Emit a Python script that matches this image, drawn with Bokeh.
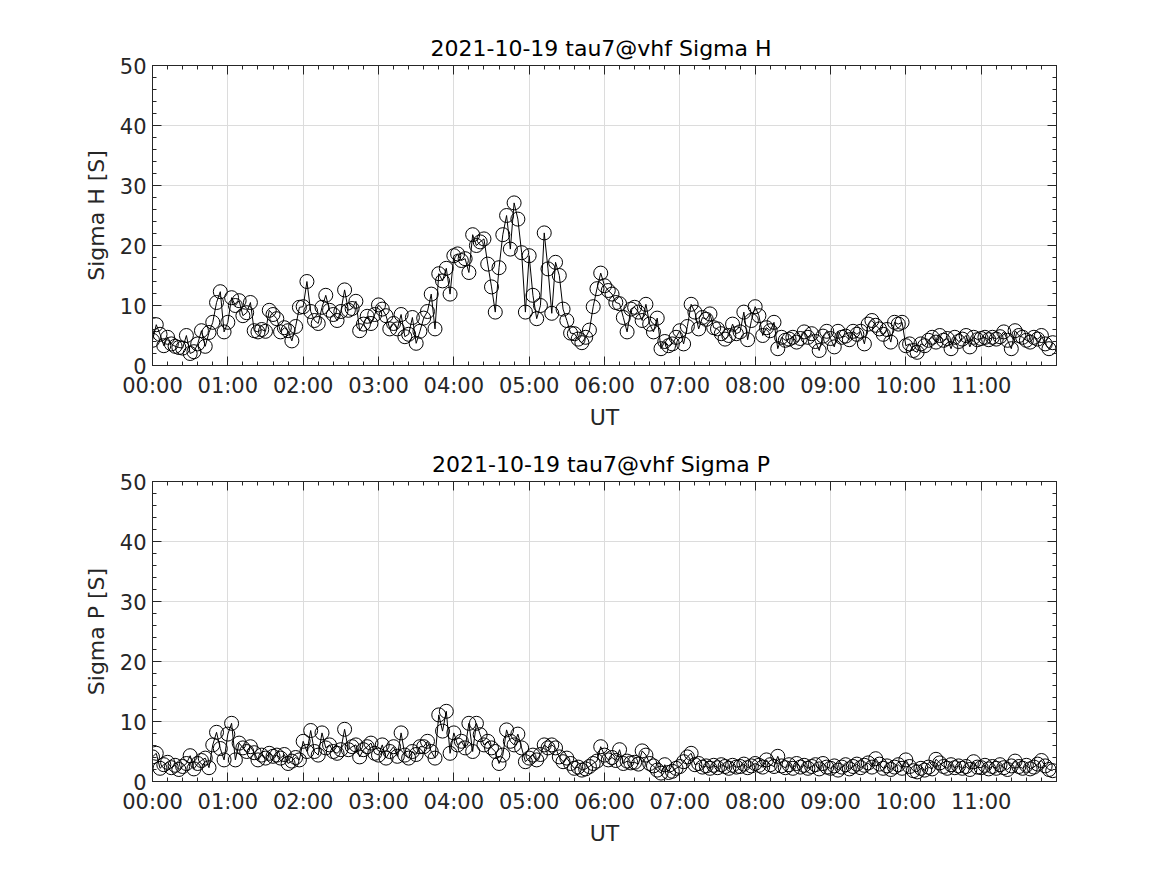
from bokeh.plotting import figure
from bokeh.layouts import column
from bokeh.models import Range1d, FixedTicker, LinearAxis, ColumnDataSource
from bokeh.embed import file_html
from bokeh.resources import INLINE

# ---- data (3-minute cadence, 00:00 .. 11:57 UT) ----
minutes = list(range(0, 720, 3))
tick_minutes = [0, 60, 120, 180, 240, 300, 360, 420, 480, 540, 600, 660]
tick_labels = ["00:00", "01:00", "02:00", "03:00", "04:00", "05:00",
               "06:00", "07:00", "08:00", "09:00", "10:00", "11:00"]
y_ticks = [0, 10, 20, 30, 40, 50]

sigma_h = [
    4.2, 6.8, 5.2, 3.3, 4.7, 3.6, 3.2, 3.0, 2.9, 5.0, 2.0, 2.3, 3.6, 5.8, 3.2, 5.5, 7.2, 10.5, 12.3, 5.6,
    7.2, 11.3, 10.0, 10.8, 8.3, 8.8, 10.5, 5.8, 5.6, 6.0, 5.7, 9.2, 8.5, 7.8, 5.6, 6.3, 5.8, 4.1, 6.5, 9.7,
    9.8, 14.0, 9.0, 7.5, 7.0, 9.7, 11.7, 9.2, 8.5, 7.5, 9.0, 12.6, 9.2, 9.5, 10.7, 5.8, 6.9, 8.2, 7.0, 8.5,
    10.1, 9.4, 8.3, 6.1, 7.0, 6.1, 8.5, 4.8, 5.2, 8.0, 3.7, 5.7, 7.9, 9.0, 11.9, 6.1, 15.3, 14.1, 16.2, 11.9,
    18.3, 18.6, 17.5, 17.8, 15.5, 21.8, 20.0, 20.6, 21.1, 16.9, 13.1, 8.9, 16.3, 21.8, 25.0, 19.4, 27.1, 24.4, 18.8, 8.9,
    18.3, 11.7, 7.8, 10.0, 22.1, 16.1, 8.7, 17.2, 15.0, 9.4, 7.5, 5.4, 5.3, 4.4, 3.8, 4.7, 5.9, 9.8, 12.8, 15.4,
    13.3, 12.5, 11.9, 10.5, 10.3, 8.0, 5.6, 9.4, 9.7, 8.9, 7.5, 10.2, 6.9, 5.6, 7.9, 2.8, 4.0, 3.3, 3.6, 4.7,
    5.8, 3.6, 6.5, 10.2, 8.9, 6.1, 8.0, 7.7, 8.6, 6.3, 6.1, 5.3, 4.4, 5.0, 6.9, 5.3, 5.6, 8.9, 4.3, 7.5,
    9.8, 8.3, 5.0, 6.3, 5.8, 7.2, 2.8, 4.7, 4.2, 4.4, 4.7, 3.9, 4.5, 5.6, 4.7, 5.3, 4.0, 2.5, 4.9, 5.7,
    4.5, 3.1, 5.7, 4.7, 4.9, 4.3, 5.7, 5.2, 5.7, 3.6, 6.9, 7.5, 6.7, 6.1, 5.2, 6.0, 3.9, 7.2, 6.9, 7.2,
    3.3, 3.6, 2.5, 2.2, 3.6, 3.3, 4.2, 4.7, 3.9, 5.0, 4.2, 4.5, 2.8, 4.7, 4.0, 4.4, 5.0, 3.1, 4.7, 4.3,
    4.5, 4.7, 4.3, 4.7, 4.4, 4.8, 5.6, 4.2, 2.8, 5.8, 5.0, 4.7, 4.2, 3.9, 4.7, 4.4, 5.0, 3.6, 2.8, 3.8,
]

sigma_p = [
    4.1, 4.7, 2.2, 2.8, 3.2, 2.3, 2.7, 2.0, 2.5, 3.0, 4.3, 2.1, 3.0, 3.5, 3.9, 2.3, 6.1, 8.2, 5.5, 3.6,
    7.9, 9.7, 3.6, 6.4, 5.6, 5.0, 5.8, 4.8, 3.6, 4.4, 3.9, 4.7, 4.2, 4.4, 3.9, 4.5, 3.0, 3.4, 4.0, 3.6,
    6.7, 5.0, 8.5, 5.0, 4.4, 8.1, 5.6, 6.1, 5.0, 4.7, 5.3, 8.7, 5.3, 5.8, 6.1, 4.1, 5.3, 5.8, 6.4, 4.7,
    4.4, 6.1, 3.9, 5.0, 5.8, 4.2, 8.1, 4.4, 3.9, 5.0, 4.5, 5.8, 5.8, 6.7, 5.0, 3.9, 11.1, 8.4, 11.7, 4.7,
    8.1, 6.1, 6.7, 5.6, 9.7, 5.0, 9.7, 7.8, 6.1, 6.7, 5.6, 5.0, 3.0, 4.4, 8.6, 6.7, 6.1, 7.9, 5.6, 3.3,
    3.9, 4.4, 3.6, 4.5, 6.1, 5.6, 6.1, 5.6, 4.1, 3.3, 3.9, 3.0, 2.2, 2.4, 1.9, 2.1, 2.5, 3.0, 3.4, 5.8,
    4.4, 3.6, 4.0, 3.5, 5.3, 3.0, 3.4, 3.1, 3.2, 2.9, 5.1, 4.4, 3.0, 2.6, 1.9, 1.4, 2.8, 1.5, 1.7, 2.2,
    2.5, 3.3, 4.1, 4.7, 2.8, 3.0, 2.4, 2.6, 2.2, 2.7, 2.3, 2.8, 2.5, 2.2, 2.7, 2.4, 2.5, 2.9, 2.3, 2.6,
    3.0, 2.7, 2.4, 3.6, 2.8, 2.5, 4.2, 2.6, 2.3, 2.8, 2.2, 3.0, 2.4, 2.7, 2.2, 2.5, 2.8, 2.1, 3.0, 2.4,
    2.2, 2.6, 1.9, 2.4, 2.8, 2.1, 2.5, 2.9, 2.3, 2.7, 3.1, 2.4, 3.8, 2.9, 2.2, 2.6, 2.0, 2.4, 2.8, 2.2,
    3.6, 2.5, 1.8, 1.6, 2.2, 1.9, 2.4, 2.1, 3.7, 3.1, 2.5, 2.2, 2.8, 2.3, 2.6, 2.2, 2.5, 2.0, 3.3, 2.4,
    2.3, 2.7, 2.1, 2.5, 2.2, 2.8, 2.3, 2.0, 2.6, 3.4, 2.5, 2.2, 2.7, 2.1, 2.4, 2.9, 3.5, 2.6, 2.0, 1.8,
]

FONT = "DejaVu Sans"
TXT = "#262626"
x_minor = [m for m in range(0, 721, 12) if m % 60 != 0]
y_minor = [v for v in range(0, 51, 2) if v % 10 != 0]


def style_axis(ax, show_labels):
    ax.axis_line_color = TXT
    ax.axis_line_width = 1
    ax.major_tick_line_color = TXT
    ax.minor_tick_line_color = TXT
    ax.major_tick_in = 9
    ax.major_tick_out = 0
    ax.minor_tick_in = 4
    ax.minor_tick_out = 0
    ax.major_label_text_font = FONT
    ax.axis_label_text_font = FONT
    ax.axis_label_text_color = TXT
    ax.axis_label_text_font_style = "normal"
    ax.axis_label_text_font_size = "22px"
    if show_labels:
        ax.major_label_text_font_size = "21px"
        ax.major_label_text_color = TXT
    else:
        ax.major_label_text_font_size = "1px"
        ax.major_label_text_color = None
        ax.major_label_standoff = 0


def make_panel(values, title, ylabel, border_top, border_bottom):
    p = figure(frame_width=904, frame_height=300,
               x_range=Range1d(0, 720), y_range=Range1d(0, 50),
               output_backend="svg", toolbar_location=None,
               min_border_left=152, min_border_right=60,
               min_border_top=border_top, min_border_bottom=border_bottom,
               background_fill_color="white", border_fill_color="white")
    p.title.text = title
    p.title.align = "center"
    p.title.text_font = FONT
    p.title.text_font_size = "22px"
    p.title.text_font_style = "normal"
    p.title.text_color = "#000000"
    p.outline_line_color = TXT

    xt = FixedTicker(ticks=tick_minutes, minor_ticks=x_minor)
    yt = FixedTicker(ticks=y_ticks, minor_ticks=y_minor)

    p.xaxis.ticker = xt
    p.xaxis.major_label_overrides = {m: lab for m, lab in zip(tick_minutes, tick_labels)}
    p.xaxis.axis_label = "UT"
    p.xaxis.major_label_standoff = 8
    p.xaxis.axis_label_standoff = 4
    style_axis(p.xaxis[0], True)

    p.yaxis.ticker = yt
    p.yaxis.axis_label = ylabel
    p.yaxis.major_label_standoff = 6
    p.yaxis.axis_label_standoff = 8
    style_axis(p.yaxis[0], True)

    top = LinearAxis(ticker=FixedTicker(ticks=tick_minutes, minor_ticks=x_minor))
    style_axis(top, False)
    p.add_layout(top, "above")
    right = LinearAxis(ticker=FixedTicker(ticks=y_ticks, minor_ticks=y_minor))
    style_axis(right, False)
    p.add_layout(right, "right")

    p.xgrid.ticker = xt
    p.ygrid.ticker = yt
    p.xgrid.grid_line_color = "#dcdcdc"
    p.ygrid.grid_line_color = "#dcdcdc"
    p.xgrid.minor_grid_line_color = None
    p.ygrid.minor_grid_line_color = None

    src = ColumnDataSource(data=dict(t=minutes, v=values))
    p.line("t", "v", source=src, line_color="black", line_width=1)
    p.scatter("t", "v", source=src, marker="circle", size=14,
              line_color="black", line_width=1, fill_color=None)
    return p


p1 = make_panel(sigma_h, "2021-10-19  tau7@vhf Sigma H", "Sigma H [S]", 65, 73)
p2 = make_panel(sigma_p, "2021-10-19  tau7@vhf Sigma P", "Sigma P [S]", 43, 60)

layout = column(p1, p2, spacing=0)
open("out.html", "w").write(file_html(layout, INLINE))
